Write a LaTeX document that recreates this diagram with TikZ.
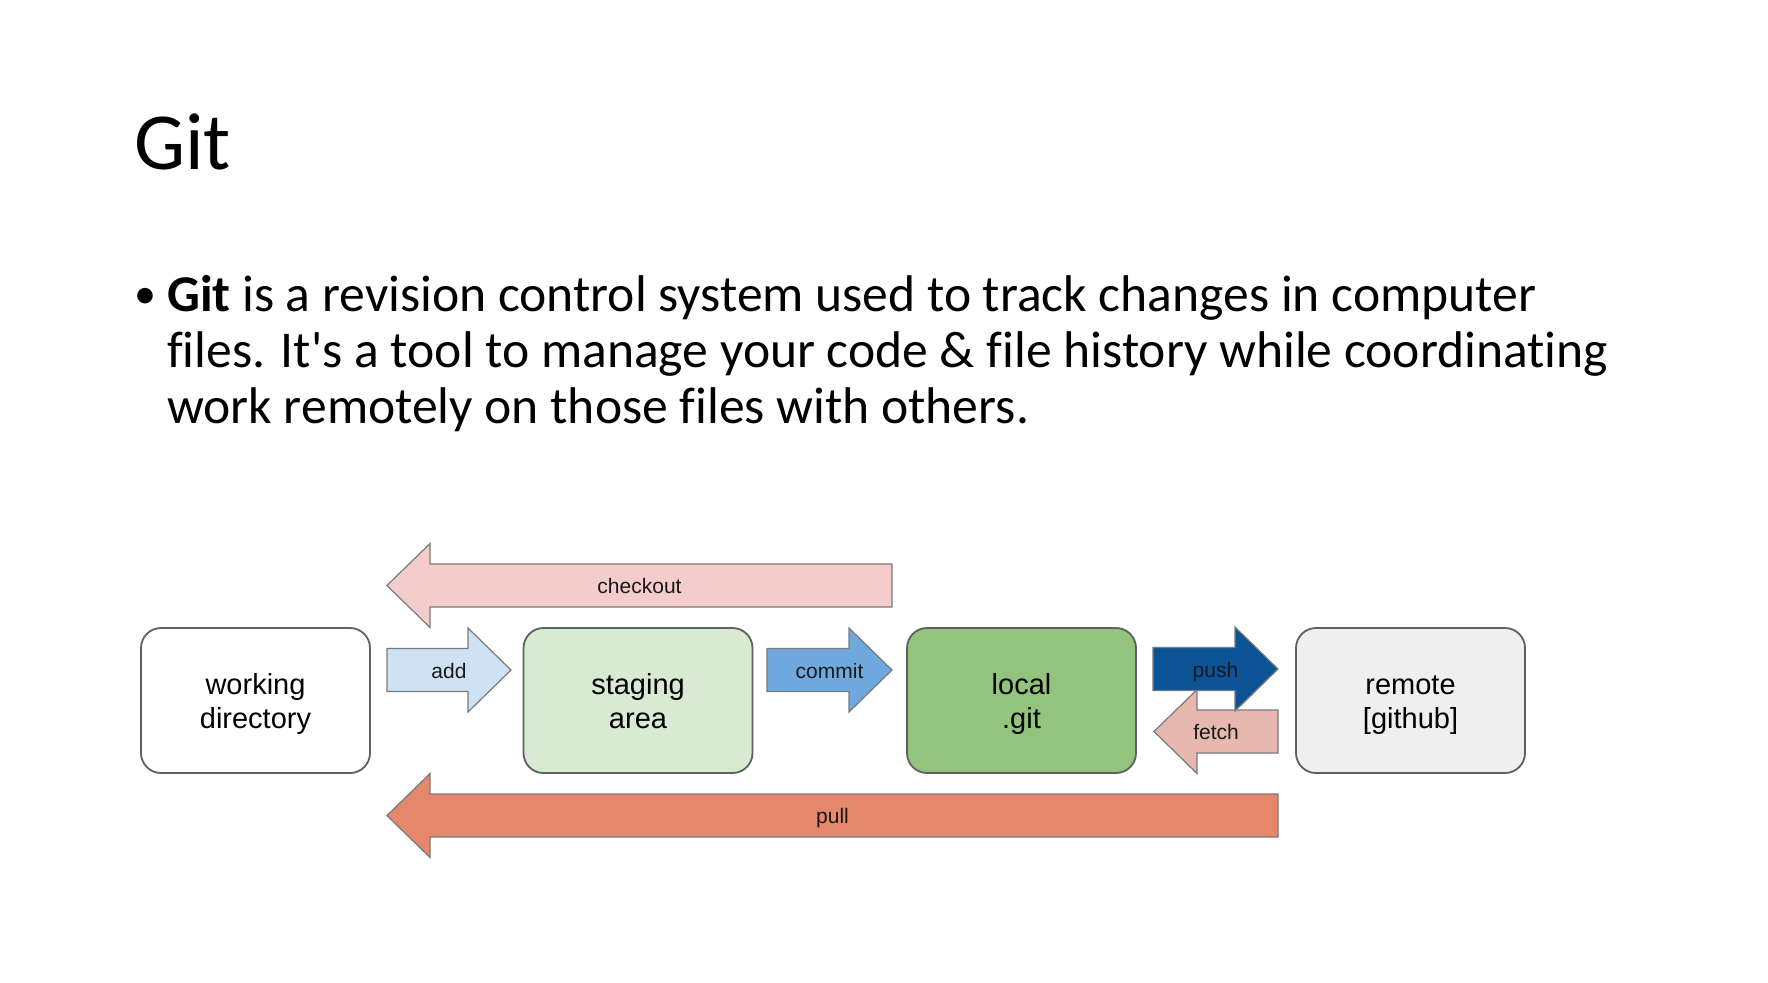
\documentclass[tikz,border=0pt]{standalone}
\usepackage{fontspec}
\setmainfont{Carlito}
\newfontfamily\calibrif{Carlito}[Ligatures=NoCommon]
\newfontfamily\arialf{Liberation Sans}
\definecolor{bordergray}{HTML}{606060}
\definecolor{arrowgray}{HTML}{7A7A7A}
\definecolor{ckfill}{HTML}{F4CCCC}
\definecolor{addfill}{HTML}{CFE2F3}
\definecolor{stagefill}{HTML}{D9EAD3}
\definecolor{commitfill}{HTML}{6FA8DC}
\definecolor{localfill}{HTML}{93C47D}
\definecolor{pushfill}{HTML}{0B5394}
\definecolor{fetchfill}{HTML}{E6B8AF}
\definecolor{pullfill}{HTML}{E4876B}
\definecolor{remotefill}{HTML}{EFEFEF}
\newcommand\rblockarrow[6]{% style, left, right, yc, label, name
  \draw[#1] (#2,#4-21.5) -- (#3-43,#4-21.5) -- (#3-43,#4-42) -- (#3,#4) -- (#3-43,#4+42) -- (#3-43,#4+21.5) -- (#2,#4+21.5) -- cycle;
  \node[arrlbl] (#6) at ({(#2+#3)/2},#4+8) {#5};}
\newcommand\lblockarrow[6]{% style, left(tip), right, yc, label, name
  \draw[#1] (#3,#4-21.5) -- (#2+43,#4-21.5) -- (#2+43,#4-42) -- (#2,#4) -- (#2+43,#4+42) -- (#2+43,#4+21.5) -- (#3,#4+21.5) -- cycle;
  \node[arrlbl] (#6) at ({(#2+#3)/2},#4+8) {#5};}
\begin{document}
\begin{tikzpicture}[x=1pt,y=-1pt,
  box/.style={draw=bordergray, line width=1.8pt, rounded corners=20pt, minimum width=229pt, minimum height=145pt, inner sep=0pt},
  boxtxt/.style={align=center, font=\arialf\fontsize{29}{33.5}\selectfont, inner sep=0pt},
  arrlbl/.style={anchor=base, font=\arialf\fontsize{21}{24}\selectfont, text=black!90, inner sep=0pt},
  barrow/.style={draw=arrowgray, line width=1.2pt, line join=miter},
  body/.style={anchor=base west, inner sep=0pt, font=\calibrif\fontsize{51.6}{56}\selectfont}]
\useasboundingbox[fill=white] (0,0) rectangle (1768,982);
% title
\node[anchor=base west, inner sep=0pt, font=\fontsize{81}{90}\selectfont] (title) at (134,169) {Git};
% bullet text
\node[anchor=base west, inner sep=0pt, font=\calibrif\fontsize{44}{50}\selectfont] (bullet) at (134,308) {•};
\node[body] (l1) at (167,311) {\textbf{Git} is a revision control system used to track changes in computer};
\node[body] (l2) at (167,367) {files. It's a tool to manage your code \& file history while coordinating};
\node[body] (l3) at (167,423) {work remotely on those files with others.};
% boxes
\node[box, fill=white] (wd) at (255.5,700.5) {};
\node[box, fill=stagefill] (sa) at (638,700.5) {};
\node[box, fill=localfill] (lg) at (1021.5,700.5) {};
\node[box, fill=remotefill] (rm) at (1410.5,700.5) {};
\node[boxtxt] (wdt) at ([yshift=-3.5pt]wd.center) {working\\directory};
\node[boxtxt] (sat) at ([yshift=-0.5pt]sa.center) {staging\\area};
\node[boxtxt] (lgt) at ([yshift=-3.5pt]lg.center) {local\\.git};
\node[boxtxt] (rmt) at ([yshift=-4.5pt]rm.center) {remote\\{[github]}};
% arrows
\lblockarrow{barrow, fill=ckfill}{387}{892}{585.5}{checkout}{checkout}
\rblockarrow{barrow, fill=addfill}{387}{511}{670}{add}{add}
\rblockarrow{barrow, fill=commitfill}{767}{892}{670}{commit}{commit}
\lblockarrow{barrow, fill=fetchfill}{1154}{1278}{731.5}{fetch}{fetch}
\rblockarrow{barrow, fill=pushfill}{1153}{1278}{669}{push}{push}
\lblockarrow{barrow, fill=pullfill}{387}{1278}{815.5}{pull}{pull}
\end{tikzpicture}
\end{document}
